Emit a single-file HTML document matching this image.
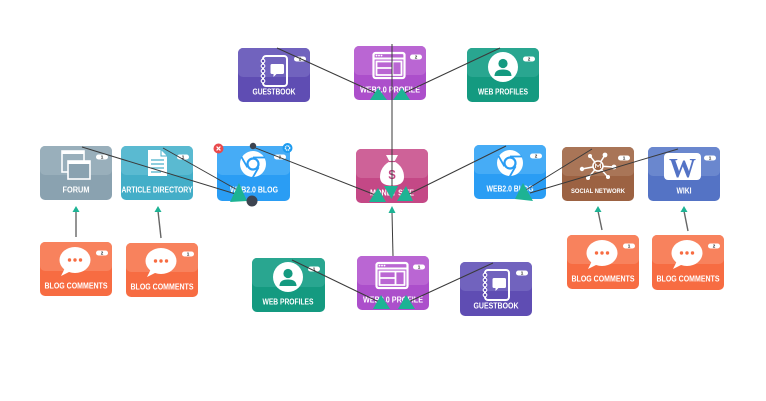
<!DOCTYPE html>
<html>
<head>
<meta charset="utf-8">
<style>
html,body{margin:0;padding:0;background:#fff;}
svg{display:block;}
.lb{font-family:"Liberation Sans",Arial,sans-serif;font-weight:bold;font-size:8px;fill:#fff;text-anchor:middle;}
.lbs{font-family:"Liberation Sans",Arial,sans-serif;font-weight:bold;font-size:6.5px;fill:#fff;text-anchor:middle;}
.bd{font-family:"Liberation Sans",Arial,sans-serif;font-weight:bold;font-size:4.6px;fill:#222;text-anchor:middle;}
</style>
</head>
<body>
<svg width="766" height="401" viewBox="0 0 766 401" xmlns="http://www.w3.org/2000/svg">
<defs>
  <g id="ic-book">
    <rect x="25" y="8" width="24" height="30" rx="3" fill="none" stroke="#fff" stroke-width="2"/>
    <g fill="currentColor" stroke="#fff" stroke-width="1.1">
      <circle cx="25" cy="13" r="1.8"/><circle cx="25" cy="18" r="1.8"/><circle cx="25" cy="23" r="1.8"/><circle cx="25" cy="28" r="1.8"/><circle cx="25" cy="33" r="1.8"/>
    </g>
    <path d="M34 16 h10.5 a1.5 1.5 0 0 1 1.5 1.5 v7 a1.5 1.5 0 0 1 -1.5 1.5 h-6 l-3 3 v-3 h-1.5 a1.5 1.5 0 0 1 -1.5 -1.5 v-7 a1.5 1.5 0 0 1 1.5 -1.5z" fill="#fff"/>
  </g>
  <g id="ic-browser">
    <rect x="19.5" y="7" width="31" height="25" rx="2" fill="none" stroke="#fff" stroke-width="2.2"/>
    <line x1="19.5" y1="12.5" x2="50.5" y2="12.5" stroke="#fff" stroke-width="2"/>
    <circle cx="22.5" cy="9.6" r="0.9" fill="#fff"/><circle cx="25" cy="9.6" r="0.9" fill="#fff"/><circle cx="27.5" cy="9.6" r="0.9" fill="#fff"/>
    <path d="M22.5 15.5 H47.5 V29 H22.5 Z M38.5 15.5 V29 M22.5 22 H38.5" fill="none" stroke="#fff" stroke-width="1.8"/>
  </g>
  <g id="ic-person">
    <circle cx="36" cy="19" r="15" fill="#fff"/>
    <circle cx="36" cy="15.5" r="4.6" fill="currentColor"/>
    <path d="M27.5 28 Q27.5 21.5 36 21.5 Q44.5 21.5 44.5 28 Z" fill="currentColor"/>
  </g>
  <g id="ic-forum">
    <rect x="22" y="5" width="22" height="21" fill="none" stroke="#fff" stroke-width="1.6"/>
    <rect x="22" y="5" width="22" height="3" fill="#fff"/>
    <rect x="28" y="15" width="22" height="18" fill="currentColor" stroke="#fff" stroke-width="1.6"/>
    <rect x="28" y="15" width="22" height="3" fill="#fff"/>
  </g>
  <g id="ic-doc">
    <path d="M27 4 H40 L46 10 V30 H27 Z" fill="#fff"/>
    <path d="M40 4 V10 H46" fill="none" stroke="currentColor" stroke-width="1"/>
    <g stroke="currentColor" stroke-width="1.2">
      <line x1="30" y1="14" x2="43" y2="14"/><line x1="30" y1="18" x2="43" y2="18"/><line x1="30" y1="22" x2="43" y2="22"/><line x1="30" y1="26" x2="40" y2="26"/>
    </g>
  </g>
  <g id="ic-chrome">
    <circle cx="36" cy="18" r="13" fill="#fff"/>
    <circle cx="36" cy="18" r="6.6" fill="currentColor"/>
    <circle cx="36" cy="18" r="4.4" fill="#fff"/>
    <g stroke="currentColor" stroke-width="1.8">
      <line x1="36" y1="11.5" x2="48" y2="11.5"/>
      <line x1="36" y1="11.5" x2="48" y2="11.5" transform="rotate(120 36 18)"/>
      <line x1="36" y1="11.5" x2="48" y2="11.5" transform="rotate(240 36 18)"/>
    </g>
  </g>
  <g id="ic-money">
    <path d="M30 6 L42 6 L38.5 12.5 Q48 18 48 28 Q48 36.5 36 36.5 Q24 36.5 24 28 Q24 18 33.5 12.5 Z" fill="#fff"/>
    <line x1="33" y1="12.5" x2="39" y2="12.5" stroke="currentColor" stroke-width="1.2"/>
  </g>
  <g id="ic-social">
    <g stroke="#fff" stroke-width="1.5">
      <line x1="36" y1="19" x2="43" y2="8"/>
      <line x1="36" y1="19" x2="28" y2="9"/>
      <line x1="36" y1="19" x2="20" y2="22"/>
      <line x1="36" y1="19" x2="26" y2="31"/>
      <line x1="36" y1="19" x2="52" y2="20"/>
      <line x1="36" y1="19" x2="46" y2="30"/>
    </g>
    <g fill="#fff">
      <circle cx="43" cy="8" r="2.4"/><circle cx="28" cy="9" r="2"/><circle cx="20" cy="22" r="2.2"/>
      <circle cx="26" cy="31" r="2"/><circle cx="52" cy="20" r="2.4"/><circle cx="46" cy="30" r="2"/>
    </g>
    <circle cx="36" cy="19" r="5" fill="currentColor" stroke="#fff" stroke-width="1.6"/>
    <path d="M33.6 21 V17 L36 19.5 L38.4 17 V21" fill="none" stroke="#fff" stroke-width="0.9"/>
  </g>
  <g id="ic-bubble">
    <ellipse cx="35" cy="18" rx="15.5" ry="13" fill="#fff"/>
    <polygon points="25,26 21,34 31,29" fill="#fff"/>
    <circle cx="29.5" cy="18" r="1.7" fill="currentColor"/>
    <circle cx="35" cy="18" r="1.7" fill="currentColor"/>
    <circle cx="40.5" cy="18" r="1.7" fill="currentColor"/>
  </g>
</defs>

<!-- ===== NODES ===== -->
<!-- Guestbook top -->
<g transform="translate(238,48)" style="color:#5f4db3">
  <rect width="72" height="54" rx="5" fill="#5f4db3"/>
  <rect width="72" height="29" rx="5" fill="#7163be"/>
  <use href="#ic-book"/>
  <text x="36" y="46.5" class="lb" textLength="43" lengthAdjust="spacingAndGlyphs">GUESTBOOK</text>
  <rect x="56" y="8.5" width="12" height="5" rx="2.5" fill="#fff"/><text x="62" y="12.7" class="bd">2</text>
</g>
<!-- Web2.0 Profile top -->
<g transform="translate(354,46)" style="color:#ac4fcb">
  <rect width="72" height="54" rx="5" fill="#ac4fcb"/>
  <rect width="72" height="29" rx="5" fill="#ba66d3"/>
  <use href="#ic-browser"/>
  <text x="36" y="46.5" class="lb" textLength="60" lengthAdjust="spacingAndGlyphs">WEB2.0 PROFILE</text>
  <rect x="56" y="8.5" width="12" height="5" rx="2.5" fill="#fff"/><text x="62" y="12.7" class="bd">2</text>
</g>
<!-- Web Profiles top -->
<g transform="translate(467,48)" style="color:#149a80">
  <rect width="72" height="54" rx="5" fill="#149a80"/>
  <rect width="72" height="29" rx="5" fill="#29a690"/>
  <use href="#ic-person"/>
  <text x="36" y="46.5" class="lb" textLength="50" lengthAdjust="spacingAndGlyphs">WEB PROFILES</text>
  <rect x="56" y="8.5" width="12" height="5" rx="2.5" fill="#fff"/><text x="62" y="12.7" class="bd">2</text>
</g>
<!-- Forum -->
<g transform="translate(40,146)" style="color:#8aa2b0">
  <rect width="72" height="54" rx="5" fill="#8aa2b0"/>
  <rect width="72" height="29" rx="5" fill="#99afbb"/>
  <use href="#ic-forum"/>
  <text x="36" y="46.5" class="lb" textLength="27" lengthAdjust="spacingAndGlyphs">FORUM</text>
  <rect x="56" y="8.5" width="12" height="5" rx="2.5" fill="#fff"/><text x="62" y="12.7" class="bd">1</text>
</g>
<!-- Article Directory -->
<g transform="translate(121,146)" style="color:#43aec8">
  <rect width="72" height="54" rx="5" fill="#43aec8"/>
  <rect width="72" height="29" rx="5" fill="#5abad1"/>
  <use href="#ic-doc"/>
  <text x="36" y="46.5" class="lb" textLength="71" lengthAdjust="spacingAndGlyphs">ARTICLE DIRECTORY</text>
  <rect x="56" y="8.5" width="12" height="5" rx="2.5" fill="#fff"/><text x="62" y="12.7" class="bd">1</text>
</g>
<!-- Web2.0 Blog left -->
<g transform="translate(217,146)" style="color:#2a9df4">
  <rect width="73" height="55" rx="5" fill="#2a9df4"/>
  <rect width="73" height="29" rx="5" fill="#46acf6"/>
  <use href="#ic-chrome"/>
  <text x="37" y="46.5" class="lb" textLength="48" lengthAdjust="spacingAndGlyphs">WEB2.0 BLOG</text>
  <rect x="57" y="8.5" width="12" height="5" rx="2.5" fill="#fff"/><text x="63" y="12.7" class="bd">1</text>
</g>
<!-- Money Site -->
<g transform="translate(356,149)" style="color:#c44886">
  <rect width="72" height="54" rx="5" fill="#c44886"/>
  <rect width="72" height="29" rx="5" fill="#ce6298"/>
  <use href="#ic-money"/>
  <text x="36" y="30" style="font-family:'Liberation Sans',Arial,sans-serif;font-weight:bold;font-size:13px;fill:#c44886;text-anchor:middle">$</text>
  <text x="36" y="46.5" class="lb" textLength="44" lengthAdjust="spacingAndGlyphs">MONEY SITE</text>
</g>
<!-- Web2.0 Blog right -->
<g transform="translate(474,145)" style="color:#2a9df4">
  <rect width="72" height="54" rx="5" fill="#2a9df4"/>
  <rect width="72" height="29" rx="5" fill="#46acf6"/>
  <use href="#ic-chrome"/>
  <text x="36" y="46.5" class="lb" textLength="47" lengthAdjust="spacingAndGlyphs">WEB2.0 BLOG</text>
  <rect x="56" y="8.5" width="12" height="5" rx="2.5" fill="#fff"/><text x="62" y="12.7" class="bd">2</text>
</g>
<!-- Social Network -->
<g transform="translate(562,147)" style="color:#9c6242">
  <rect width="72" height="54" rx="5" fill="#9c6242"/>
  <rect width="72" height="29" rx="5" fill="#a97557"/>
  <use href="#ic-social"/>
  <text x="36" y="46" class="lbs" textLength="54" lengthAdjust="spacingAndGlyphs">SOCIAL NETWORK</text>
  <rect x="56" y="8.5" width="12" height="5" rx="2.5" fill="#fff"/><text x="62" y="12.7" class="bd">1</text>
</g>
<!-- Wiki -->
<g transform="translate(648,147)" style="color:#5473c5">
  <rect width="72" height="54" rx="5" fill="#5473c5"/>
  <rect width="72" height="29" rx="5" fill="#6a87ce"/>
  <rect x="16" y="6" width="37" height="27" rx="4" fill="#fff"/>
  <text x="34.5" y="30" textLength="27" lengthAdjust="spacingAndGlyphs" style="font-family:'Liberation Serif',serif;font-weight:bold;font-size:27px;fill:#5473c5;text-anchor:middle">W</text>
  <text x="36" y="46.5" class="lb" textLength="15" lengthAdjust="spacingAndGlyphs">WIKI</text>
  <rect x="56" y="8.5" width="12" height="5" rx="2.5" fill="#fff"/><text x="62" y="12.7" class="bd">1</text>
</g>
<!-- Blog comments 1 -->
<g transform="translate(40,242)" style="color:#f76c42">
  <rect width="72" height="54" rx="5" fill="#f76c42"/>
  <rect width="72" height="29" rx="5" fill="#f8825d"/>
  <use href="#ic-bubble"/>
  <text x="36" y="46.5" class="lb" textLength="63" lengthAdjust="spacingAndGlyphs">BLOG COMMENTS</text>
  <rect x="56" y="8.5" width="12" height="5" rx="2.5" fill="#fff"/><text x="62" y="12.7" class="bd">2</text>
</g>
<!-- Blog comments 2 -->
<g transform="translate(126,243)" style="color:#f76c42">
  <rect width="72" height="54" rx="5" fill="#f76c42"/>
  <rect width="72" height="29" rx="5" fill="#f8825d"/>
  <use href="#ic-bubble"/>
  <text x="36" y="46.5" class="lb" textLength="63" lengthAdjust="spacingAndGlyphs">BLOG COMMENTS</text>
  <rect x="56" y="8.5" width="12" height="5" rx="2.5" fill="#fff"/><text x="62" y="12.7" class="bd">1</text>
</g>
<!-- Web Profiles bottom -->
<g transform="translate(252,258)" style="color:#149a80">
  <rect width="73" height="54" rx="5" fill="#149a80"/>
  <rect width="73" height="29" rx="5" fill="#29a690"/>
  <use href="#ic-person"/>
  <text x="36" y="46.5" class="lb" textLength="51" lengthAdjust="spacingAndGlyphs">WEB PROFILES</text>
  <rect x="56" y="8.5" width="12" height="5" rx="2.5" fill="#fff"/><text x="62" y="12.7" class="bd">1</text>
</g>
<!-- Web2.0 Profile bottom -->
<g transform="translate(357,256)" style="color:#ac4fcb">
  <rect width="72" height="54" rx="5" fill="#ac4fcb"/>
  <rect width="72" height="29" rx="5" fill="#ba66d3"/>
  <use href="#ic-browser"/>
  <text x="36" y="46.5" class="lb" textLength="60" lengthAdjust="spacingAndGlyphs">WEB2.0 PROFILE</text>
  <rect x="56" y="8.5" width="12" height="5" rx="2.5" fill="#fff"/><text x="62" y="12.7" class="bd">1</text>
</g>
<!-- Guestbook bottom -->
<g transform="translate(460,262)" style="color:#5f4db3">
  <rect width="72" height="54" rx="5" fill="#5f4db3"/>
  <rect width="72" height="29" rx="5" fill="#7163be"/>
  <use href="#ic-book"/>
  <text x="36" y="46.5" class="lb" textLength="45" lengthAdjust="spacingAndGlyphs">GUESTBOOK</text>
  <rect x="56" y="8.5" width="12" height="5" rx="2.5" fill="#fff"/><text x="62" y="12.7" class="bd">1</text>
</g>
<!-- Blog comments 3 -->
<g transform="translate(567,235)" style="color:#f76c42">
  <rect width="72" height="54" rx="5" fill="#f76c42"/>
  <rect width="72" height="29" rx="5" fill="#f8825d"/>
  <use href="#ic-bubble"/>
  <text x="36" y="46.5" class="lb" textLength="63" lengthAdjust="spacingAndGlyphs">BLOG COMMENTS</text>
  <rect x="56" y="8.5" width="12" height="5" rx="2.5" fill="#fff"/><text x="62" y="12.7" class="bd">1</text>
</g>
<!-- Blog comments 4 -->
<g transform="translate(652,235)" style="color:#f76c42">
  <rect width="72" height="55" rx="5" fill="#f76c42"/>
  <rect width="72" height="29" rx="5" fill="#f8825d"/>
  <use href="#ic-bubble"/>
  <text x="36" y="46.5" class="lb" textLength="63" lengthAdjust="spacingAndGlyphs">BLOG COMMENTS</text>
  <rect x="56" y="8.5" width="12" height="5" rx="2.5" fill="#fff"/><text x="62" y="12.7" class="bd">2</text>
</g>

<!-- ===== CONNECTORS ===== -->
<g stroke="#3a3a3a" stroke-width="1" fill="none">
  <line x1="277" y1="48" x2="378" y2="94"/>
  <line x1="500" y1="48" x2="402" y2="94"/>
  <line x1="392" y1="44" x2="392" y2="188"/>
  <line x1="253" y1="147" x2="378" y2="196"/>
  <line x1="506" y1="146" x2="405" y2="196"/>
  <line x1="393" y1="256" x2="392" y2="212"/>
  <line x1="292" y1="260" x2="381" y2="303"/>
  <line x1="493" y1="263" x2="406" y2="303"/>
  <line x1="82" y1="147" x2="239" y2="195"/>
  <line x1="163" y1="148" x2="241" y2="192"/>
  <line x1="592" y1="149" x2="521" y2="193"/>
  <line x1="678" y1="149" x2="530" y2="193"/>
</g>
<g stroke="#666" stroke-width="1.4" fill="none">
  <line x1="76" y1="237" x2="76" y2="211"/>
  <line x1="161" y1="238" x2="158" y2="211"/>
  <line x1="602" y1="230" x2="598" y2="211"/>
  <line x1="688" y1="231" x2="684" y2="211"/>
</g>

<!-- ===== ARROWHEADS ===== -->
<g fill="#1db394">
  <polygon points="370,100 387,100 378,88"/>
  <polygon points="393,100 410,100 402,88"/>
  <polygon points="369,202 386,202 378,188"/>
  <polygon points="397,201 413,201 406,186"/>
  <polygon points="384,186 398,186 391.5,199"/>
  <polygon points="230,202 247,201 239,183"/>
  <polygon points="515,199 533,201 523,183"/>
  <polygon points="373,309 390,309 381,295"/>
  <polygon points="398,309 415,309 406,295"/>
  <polygon points="388.5,213 395.5,213 392,206"/>
  <polygon points="72.5,212 79.5,212 76,206"/>
  <polygon points="154.5,212 161.5,212 158,206"/>
  <polygon points="594.5,212 601.5,212 598,206"/>
  <polygon points="680.5,212 687.5,212 684,206"/>
</g>

<!-- selection handles on Web2.0 Blog left -->
<circle cx="218.5" cy="148.5" r="5" fill="#e94a4c"/>
<path d="M216.6 146.6 L220.4 150.4 M220.4 146.6 L216.6 150.4" stroke="#fff" stroke-width="1.2"/>
<circle cx="287.5" cy="148" r="5" fill="#1c9bf0"/>
<circle cx="287.5" cy="148" r="2.2" fill="none" stroke="#fff" stroke-width="1.4" stroke-dasharray="1.2 0.6"/>
<circle cx="253" cy="146" r="3.2" fill="#3d4450"/>
<circle cx="252" cy="201" r="5.5" fill="#3d4450"/>
</svg>
</body>
</html>
